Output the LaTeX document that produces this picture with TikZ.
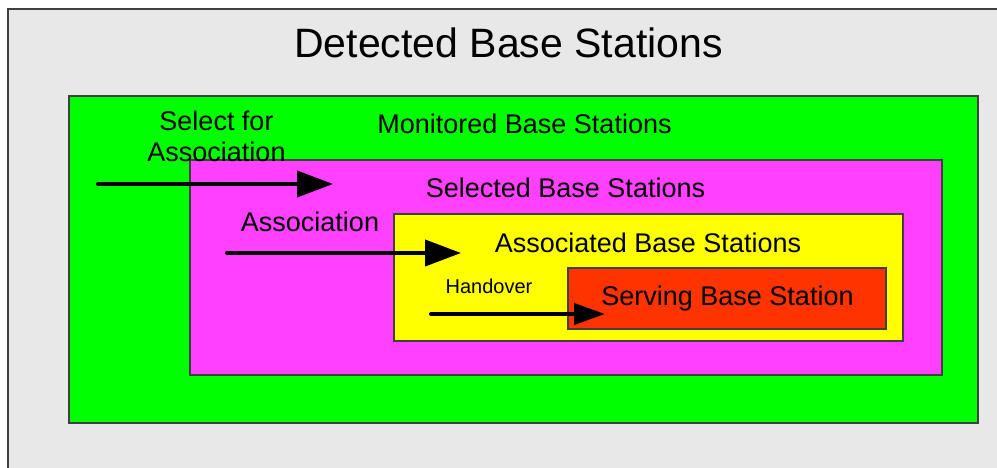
\documentclass[tikz,border=0pt]{standalone}
\usepackage{fontspec}
\setmainfont{Liberation Sans}
\usetikzlibrary{arrows.meta}
\definecolor{bggray}{HTML}{E8E8E8}
\definecolor{frame}{HTML}{404040}
\definecolor{mgreen}{HTML}{00FF00}
\definecolor{mmag}{HTML}{FF40FF}
\definecolor{myel}{HTML}{FFFF00}
\definecolor{mred}{HTML}{FF3300}
\tikzset{
  setbox/.style={draw=frame, line width=1.2pt},
  lbl/.style={anchor=base, inner sep=0pt, font=\fontsize{27}{32}\selectfont},
  biglbl/.style={anchor=base, inner sep=0pt, font=\fontsize{41}{48}\selectfont},
  smalllbl/.style={anchor=base, inner sep=0pt, font=\fontsize{20}{24}\selectfont},
  bigarrow/.style={line width=4pt, line cap=round, -{Triangle[length=36pt,width=26pt]}},
  smallarrow/.style={line width=4pt, line cap=round, -{Triangle[length=31pt,width=21pt]}}
}
\begin{document}
\begin{tikzpicture}[x=1pt,y=-1pt]
\useasboundingbox (0,0) rectangle (997,468);
\clip (0,0) rectangle (997,468);
\fill[white] (0,0) rectangle (997,468);
% outer detected box
\draw[fill=bggray, draw=frame, line width=2pt] (8,9) rectangle (1010,480);
\node[biglbl] (detected) at (508.5,58) {Detected Base Stations};
% monitored
\draw[setbox, fill=mgreen] (69,96) rectangle (978,423);
\node[lbl] (monitored) at (524.5,134) {Monitored Base Stations};
% selected
\draw[setbox, fill=mmag] (190,160) rectangle (942,375);
\node[lbl] (selected) at (565.5,197) {Selected Base Stations};
% associated
\draw[setbox, fill=myel] (394,214) rectangle (903,341);
\node[lbl] (associated) at (648,252) {Associated Base Stations};
% serving
\draw[setbox, fill=mred] (568,268) rectangle (886,329);
\node[lbl] (serving) at (727.5,305) {Serving Base Station};
% labels for arrows
\node[lbl, align=center, anchor=base] (selfor) at (216.5,162) {Select for\\Association};
\node[lbl] (assoc) at (310,232) {Association};
\node[smalllbl] (handover) at (489,294) {Handover};
% arrows
\coordinate (a1s) at (98,184);
\coordinate (a1e) at (333,184);
\coordinate (a2s) at (227,253);
\coordinate (a2e) at (461,253);
\coordinate (a3s) at (431,314);
\coordinate (a3e) at (605,314);
\draw[bigarrow] (a1s) -- (a1e);
\draw[bigarrow] (a2s) -- (a2e);
\draw[smallarrow] (a3s) -- (a3e);
\end{tikzpicture}
\end{document}
